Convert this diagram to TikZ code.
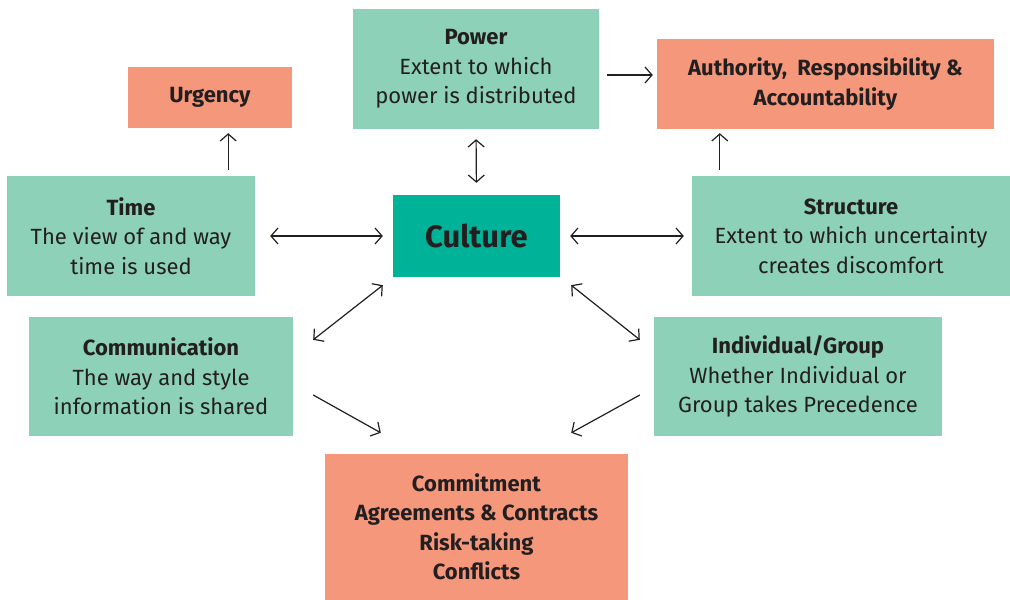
\documentclass[tikz,border=0pt]{standalone}
\usepackage{fontspec}
\setmainfont{Fira Sans}
\usetikzlibrary{arrows.meta}
\definecolor{boxgreen}{HTML}{8CD1B8}
\definecolor{boxsalmon}{HTML}{F5977A}
\definecolor{culturegreen}{HTML}{00B398}
\definecolor{inkgray}{HTML}{231F20}

\begin{document}
\begin{tikzpicture}[x=1pt, y=-1pt, font=\fontsize{22}{29.5}\selectfont,
        box/.style={fill=boxgreen, text=inkgray, align=center, inner sep=0pt},
        hot/.style={box, fill=boxsalmon},
        arr/.style={draw=inkgray, line width=1.2pt, -{Straight Barb[length=7pt,width=16pt]}},
        dbl/.style={arr, {Straight Barb[length=7pt,width=16pt]}-{Straight Barb[length=7pt,width=16pt]}}]
    \useasboundingbox (0,0) rectangle (1010,600);
        \node[hot, minimum width=164pt, minimum height=61pt] (urgency) at (210,97.5) {\textbf{Urgency}};
        \node[box, minimum width=246pt, minimum height=120pt] (power) at (476,69) {\textbf{Power}\\Extent to which\\power is distributed};
        \node[hot, minimum width=337pt, minimum height=90pt] (authority) at (825.5,84) {\textbf{Authority,\ \ Responsibility \&}\\\textbf{Accountability}};
        \node[box, minimum width=248pt, minimum height=120pt] (time) at (131,236) {\textbf{Time}\\The view of and way\\time is used};
        \node[box, fill=culturegreen, minimum width=167pt, minimum height=82pt, font=\fontsize{31}{36}\selectfont\bfseries] (culture) at (476.5,236) {Culture};
        \node[box, minimum width=318pt, minimum height=120pt] (structure) at (851,236) {\textbf{Structure}\\Extent to which uncertainty\\creates discomfort};
        \node[box, minimum width=264pt, minimum height=119pt] (comm) at (161,376.5) {\textbf{Communication}\\The way and style\\information is shared};
        \node[box, minimum width=288pt, minimum height=119pt] (indiv) at (798,376.5) {\textbf{Individual/Group}\\Whether Individual or\\Group takes Precedence};
        \node[hot, minimum width=303pt, minimum height=146pt] (commit) at (476.5,527) {\textbf{Commitment}\\\textbf{Agreements \& Contracts}\\\textbf{Risk-taking}\\\textbf{Conflicts}};
        \draw[arr, shorten >=5pt] ([shift={(-27,-6)}]time.north east) -- ([xshift=-27pt]time.north east |- urgency.south);
        \draw[arr, shorten >=12pt] ([shift={(8,6)}]power.east) -- ([shift={(8,6)}]power.east -| authority.west);
        \draw[arr, shorten >=4pt] ([shift={(28,-6)}]structure.north west) -- ([xshift=28pt]structure.north west |- authority.south);
        \draw[dbl, shorten <=10pt, shorten >=12pt] (power.south) -- (culture.north);
        \draw[dbl, shorten <=15pt, shorten >=10pt] (time.east) -- (culture.west);
        \draw[dbl, shorten <=10pt, shorten >=8pt] (culture.east) -- (structure.west);
        \draw[dbl] ([shift={(-10,8)}]culture.south west) -- ([shift={(20,23)}]comm.north east);
        \draw[dbl] ([shift={(11,8)}]culture.south east) -- ([shift={(-14,23)}]indiv.north west);
        \draw[arr] ([shift={(20,18.5)}]comm.east) -- ([shift={(56,-21)}]commit.north west);
        \draw[arr] ([shift={(-14,18.5)}]indiv.west) -- ([shift={(-57,-21)}]commit.north east);
\end{tikzpicture}
\end{document}
